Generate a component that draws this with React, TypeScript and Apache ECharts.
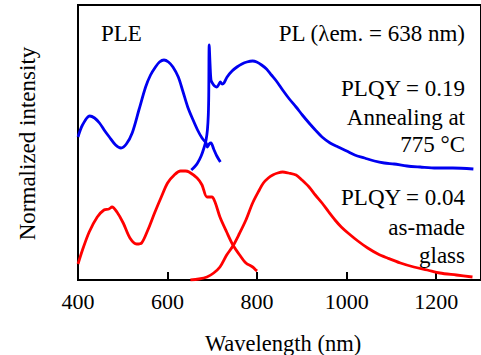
import React, { useEffect, useRef } from "react";
import * as echarts from "echarts";

const xTicks = [400, 600, 800, 1000, 1200];

const blueExcitation: [number, number][] = [
  [400, 143], [410, 155], [426, 164], [437, 162], [448, 157], [460, 149], [470, 143], [484, 135], [496, 132],
  [508, 136], [521, 147], [536, 170], [551, 193], [562, 205], [573, 213], [582, 218], [592, 220],
  [602, 218], [612, 213], [624, 203], [634, 189], [645, 173], [656, 161], [667, 150], [677, 142],
  [686, 137], [689, 133], [693, 136], [697, 137], [703, 131], [710, 124], [718, 118],
];

const blueEmission: [number, number][] = [
  [653, 110], [660, 113], [667, 117], [675, 124], [682, 133], [686, 140], [689, 150], [691, 165],
  [692, 185], [693, 235], [695, 215], [697, 200], [700, 197], [705, 194], [710, 193], [715, 196],
  [718, 198], [722, 196], [726, 197], [733, 203], [744, 209], [755, 213], [766, 216], [777, 218],
  [790, 219], [799, 218], [810, 215], [821, 211], [832, 205], [843, 199], [857, 190], [872, 181],
  [887, 173], [901, 165], [916, 157], [930, 150], [945, 143], [963, 137], [981, 133], [1000, 129],
  [1018, 125], [1040, 122], [1062, 119], [1084, 117], [1106, 116], [1135, 114], [1164, 113],
  [1200, 112], [1237, 112], [1283, 111],
];

const redExcitation: [number, number][] = [
  [400, 16], [410, 30], [425, 48], [443, 63], [458, 70], [469, 71], [476, 73], [487, 68], [501, 57],
  [516, 42], [531, 36], [542, 37], [556, 50], [571, 67], [586, 83], [600, 97], [615, 105], [629, 109],
  [640, 109], [648, 108], [666, 102], [677, 95], [688, 83], [699, 83], [706, 78], [717, 63], [732, 48],
  [746, 35], [761, 25], [775, 17], [790, 13], [797, 10], [800, 9],
];

const redEmission: [number, number][] = [
  [651, 0], [670, 1], [688, 3], [703, 7], [717, 13], [732, 25], [746, 34], [760, 46], [775, 60],
  [790, 77], [805, 90], [814, 97], [825, 102], [835, 105], [846, 107], [857, 108], [870, 107],
  [887, 105], [900, 100], [916, 93], [930, 85], [945, 77], [960, 68], [974, 60], [988, 53],
  [1003, 47], [1025, 39], [1047, 32], [1070, 26], [1091, 22], [1120, 17], [1150, 13], [1180, 10],
  [1208, 7], [1245, 5], [1281, 3],
];

const FONT = "'Liberation Serif', 'Times New Roman', serif";

export default function App() {
  const ref = useRef<HTMLDivElement>(null);
  useEffect(() => {
    if (!ref.current) return;
    const chart = echarts.init(ref.current, undefined, { renderer: "svg" });
    const line = (data: [number, number][], color: string) => ({
      type: "line",
      data,
      showSymbol: false,
      symbol: "none",
      smooth: 0.3,
      lineStyle: { color, width: 2.8 },
      z: 3,
    });
    const txt = (text: string, x: number, y: number, align: string, size = 23, extra: any = {}) => ({
      type: "text",
      x,
      y,
      z: 10,
      ...extra,
      style: {
        text,
        fill: "#000",
        fontFamily: FONT,
        fontSize: size,
        textAlign: align,
        textVerticalAlign: "middle",
      },
    });
    chart.setOption({
      animation: false,
      textStyle: { fontFamily: FONT },
      grid: {
        left: 78,
        top: 5,
        width: 410.6,
        height: 275,
        show: true,
        borderColor: "#000",
        borderWidth: 2,
        containLabel: false,
      },
      xAxis: {
        type: "value",
        min: 400,
        max: 1300,
        interval: 200,
        splitLine: { show: false },
        axisLine: { lineStyle: { color: "#000", width: 2 } },
        axisTick: { inside: true, length: 8, lineStyle: { color: "#000", width: 2 } },
        axisLabel: {
          showMaxLabel: false,
          color: "#000",
          fontFamily: FONT,
          fontSize: 22,
          margin: 10,
          formatter: (v: number) => (xTicks.includes(v) ? String(v) : ""),
        },
      },
      yAxis: {
        type: "value",
        min: 0,
        max: 275,
        splitLine: { show: false },
        axisLine: { show: true, lineStyle: { color: "#000", width: 2 } },
        axisTick: { show: false },
        axisLabel: { show: false },
      },
      series: [
        line(blueExcitation, "#0000f0"),
        line(blueEmission, "#0000f0"),
        line(redExcitation, "#ff0000"),
        line(redEmission, "#ff0000"),
      ],
      graphic: [
        txt("Normalized intensity", 27, 143.5, "center", 23, { rotation: Math.PI / 2 }),
        txt("Wavelength (nm)", 283, 343, "center", 22.5),
        txt("PLE", 101, 33.5, "left"),
        txt("PL (λem. = 638 nm)", 465, 33, "right"),
        txt("PLQY = 0.19", 465, 88.5, "right"),
        txt("Annealing at", 465, 117.5, "right"),
        txt("775 °C", 465, 144.5, "right"),
        txt("PLQY = 0.04", 465, 197.5, "right"),
        txt("as-made", 465, 227.4, "right"),
        txt("glass", 465, 255.4, "right"),
      ],
    });
    return () => chart.dispose();
  }, []);
  return (
    <div
      ref={ref}
      style={{ position: "fixed", left: 0, top: 0, width: 481, height: 355, background: "#fff" }}
    />
  );
}
